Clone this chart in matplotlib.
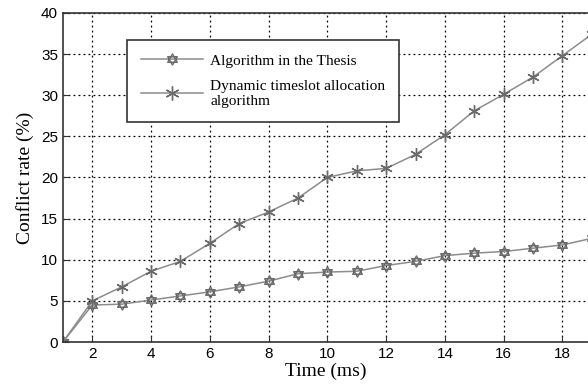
import matplotlib
matplotlib.use("Agg")
import matplotlib.pyplot as plt
from matplotlib.path import Path
from matplotlib.lines import Line2D
import numpy as np

time_ms = [1, 2, 3, 4, 5, 6, 7, 8, 9, 10, 11, 12, 13, 14, 15, 16, 17, 18, 19]
thesis = [0, 4.5, 4.6, 5.1, 5.6, 6.1, 6.7, 7.4, 8.3, 8.5, 8.6, 9.3, 9.8, 10.5, 10.8, 11.0, 11.4, 11.8, 12.6]
dynamic = [0, 5.0, 6.7, 8.6, 9.8, 12.0, 14.4, 15.8, 17.5, 20.0, 20.8, 21.1, 22.8, 25.2, 28.1, 30.1, 32.2, 34.8, 37.4]
xticks = [2, 4, 6, 8, 10, 12, 14, 16, 18]
yticks = [0, 5, 10, 15, 20, 25, 30, 35, 40]

# hexagram marker
ang1 = np.deg2rad([90, 210, 330, 90])
ang2 = np.deg2rad([270, 30, 150, 270])
verts = list(zip(np.cos(ang1), np.sin(ang1))) + list(zip(np.cos(ang2), np.sin(ang2)))
codes = [Path.MOVETO, Path.LINETO, Path.LINETO, Path.CLOSEPOLY] * 2
hexagram = Path(verts, codes)

fig = plt.figure(figsize=(5.88, 3.90), dpi=100)
ax = fig.add_axes([0.107, 0.123, 0.893, 0.844])

line_c = "#8c8c8c"
mk_c = "#6a6a6a"
ax.plot(time_ms, thesis, color=line_c, lw=1.1, marker=hexagram, markersize=8,
        markerfacecolor="none", markeredgecolor=mk_c, markeredgewidth=1.0)
ax.plot(time_ms, dynamic, color=line_c, lw=1.1, marker=(6, 2, 0), markersize=9,
        markeredgecolor=mk_c, markeredgewidth=1.0)

ax.set_xlim(1, 18.87)
ax.set_ylim(0, 40)
ax.set_xticks(xticks)
ax.set_yticks(yticks)
ax.grid(True, color="black", linestyle=(0, (1.5, 2.5)), linewidth=0.9)
for s in ["left", "bottom", "top"]:
    ax.spines[s].set_color("#333333")
    ax.spines[s].set_linewidth(1.2)
ax.spines["right"].set_visible(False)
ax.tick_params(direction="in", length=4, labelsize=11, color="#333333")
for lab in ax.get_xticklabels() + ax.get_yticklabels():
    lab.set_fontfamily("Liberation Sans")
ax.set_xlabel("Time (ms)", fontfamily="Liberation Serif", fontsize=14, labelpad=1)
ax.set_ylabel("Conflict rate (%)", fontfamily="Liberation Serif", fontsize=14, labelpad=5)

h1 = Line2D([], [], color=line_c, lw=1.1, marker=hexagram, markersize=8,
            markerfacecolor="none", markeredgecolor=mk_c)
h2 = Line2D([], [], color=line_c, lw=1.1, marker=(6, 2, 0), markersize=10,
            markeredgecolor=mk_c)
leg = ax.legend([h1, h2], ["Algorithm in the Thesis", "Dynamic timeslot allocation\nalgorithm"],
                loc="upper left", bbox_to_anchor=(0.122, 0.918), borderaxespad=0,
                fancybox=False, framealpha=1, edgecolor="#333333",
                prop={"family": "Liberation Serif", "size": 11.1},
                handlelength=4.0, handletextpad=0.5, borderpad=0.9, labelspacing=0.8)
leg.get_frame().set_linewidth(1.2)

fig.savefig("out.png", dpi=100)
